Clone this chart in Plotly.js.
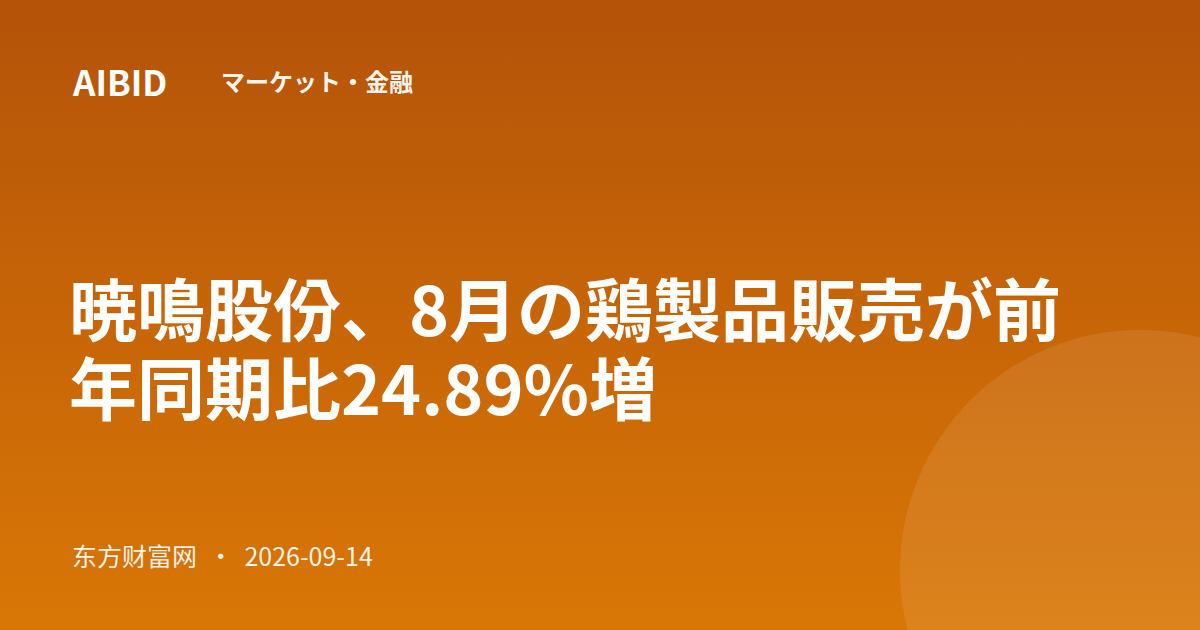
<!DOCTYPE html>
<html>
<head>
<meta charset="utf-8">
<script src="https://cdn.plot.ly/plotly-3.0.1.min.js"></script>
<style>
  html, body { margin: 0; padding: 0; }
  #card {
    width: 1200px;
    height: 630px;
    background: linear-gradient(180deg, #b45309 0%, #d97706 100%);
  }
</style>
</head>
<body>
<div id="card"></div>
<script>
// texts of the card
const brand = "AIBID";
const category = "マーケット・金融";
const titleLines = ["暁鳴股份、8月の鶏製品販売が前", "年同期比24.89%増"];
const source = "东方财富网";
const date = "2026-09-14";

const W = 1200;
const H = 630;
const JP = '"Noto Sans CJK JP", "Noto Sans", sans-serif';

function label(text, x, y, size, weight, opacity, family) {
  return {
    text: text,
    xref: "x", yref: "y",
    x: x, y: y,
    xanchor: "left", yanchor: "middle",
    showarrow: false,
    font: { family: family || JP, size: size, weight: weight, color: "rgba(255,255,255," + opacity + ")" }
  };
}

const annotations = [
  label(brand, 70, 80, 35, 700, 1),
  label(category, 219, 80, 24, 700, 0.95),
  label(source + "  ·  " + date, 70, 555, 25, 400, 0.92, '"Noto Sans CJK SC", "Noto Sans", sans-serif')
];
titleLines.forEach((t, i) => {
  const a = label(t, 67, 306 + i * 79, 68, 700, 1);
  // keep each title line box to its own row so the two lines do not collide
  a.height = 78;
  a.valign = "middle";
  annotations.push(a);
});

const layout = {
  width: W,
  height: H,
  margin: { l: 0, r: 0, t: 0, b: 0 },
  paper_bgcolor: "rgba(0,0,0,0)",
  plot_bgcolor: "rgba(0,0,0,0)",
  xaxis: { range: [0, W], visible: false, fixedrange: true },
  yaxis: { range: [H, 0], visible: false, fixedrange: true },
  showlegend: false,
  shapes: [
    {
      // decorative circle bottom right
      type: "circle",
      xref: "x", yref: "y",
      x0: 900, x1: 1380, y0: 330, y1: 810,
      fillcolor: "rgba(255,255,255,0.09)",
      line: { width: 0 },
      layer: "below"
    }
  ],
  annotations: annotations
};

const config = { displayModeBar: false, staticPlot: true };

Plotly.newPlot("card", [], layout, config);
</script>
</body>
</html>
